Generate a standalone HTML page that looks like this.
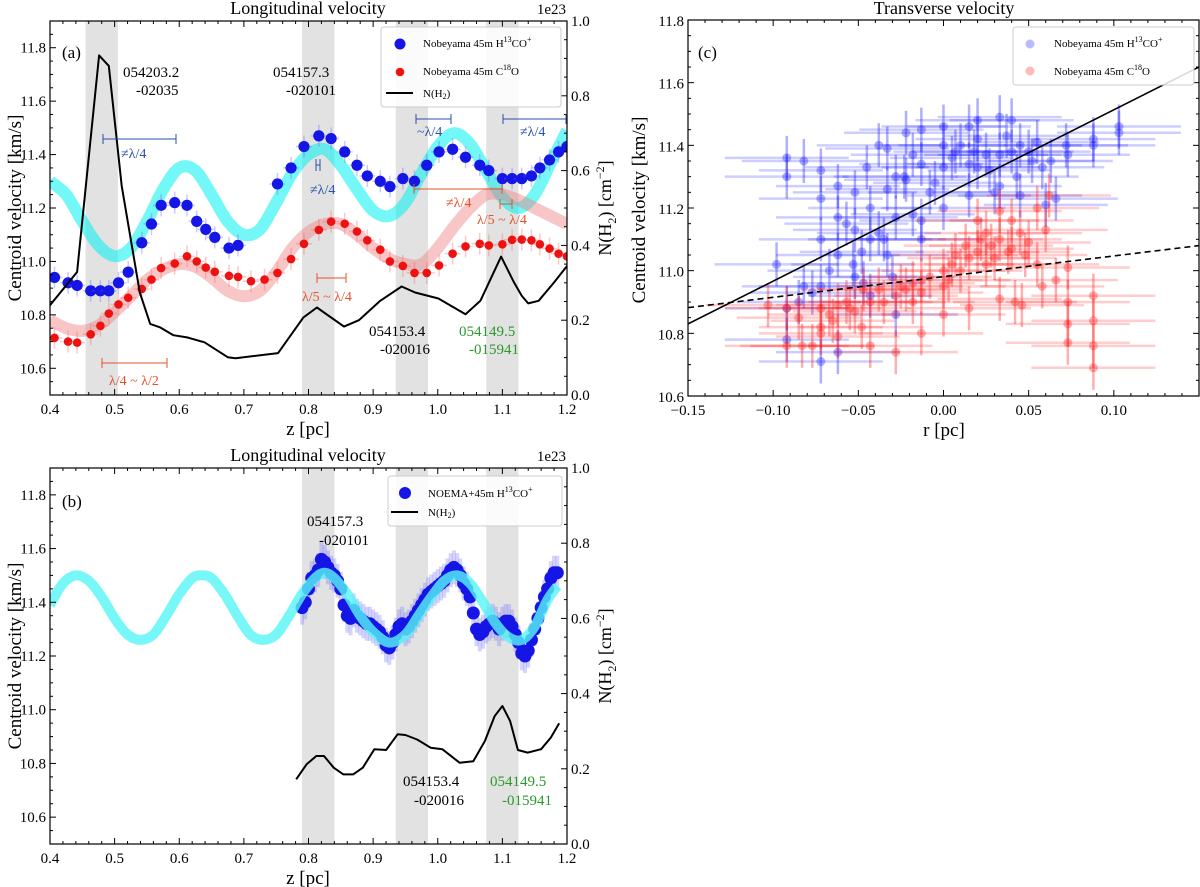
<!DOCTYPE html>
<html><head><meta charset="utf-8"><style>
html,body{margin:0;padding:0;background:#fff;}
svg{display:block;font-family:"Liberation Serif","DejaVu Serif",serif;}
</style></head><body>
<svg id="chart" width="1200" height="887" viewBox="0 0 1200 887" xmlns="http://www.w3.org/2000/svg">
<defs>
<clipPath id="clipA"><rect x="50" y="21" width="517" height="374"/></clipPath>
<clipPath id="clipB"><rect x="50" y="468" width="517" height="376"/></clipPath>
<clipPath id="clipC"><rect x="688" y="20" width="511" height="376"/></clipPath>
</defs>
</svg>
<script>
// ---------- DATA ----------
const bandsStart=[0.455,0.79,0.935,1.075];
const bandsEnd=[0.505,0.84,0.985,1.125];
// panel a
const aBlueZ=[0.407,0.428,0.442,0.463,0.478,0.491,0.506,0.521,0.542,0.557,0.572,0.593,0.612,0.627,0.641,0.655,0.677,0.691,0.752,0.773,0.793,0.816,0.835,0.856,0.875,0.891,0.911,0.926,0.946,0.964,0.983,1.002,1.023,1.043,1.065,1.079,1.100,1.115,1.130,1.145,1.158,1.173,1.187,1.200];
const aBlueV=[10.94,10.92,10.91,10.89,10.89,10.89,10.92,10.96,11.07,11.14,11.21,11.22,11.21,11.15,11.12,11.09,11.05,11.06,11.29,11.35,11.43,11.47,11.46,11.41,11.36,11.32,11.30,11.28,11.31,11.30,11.36,11.41,11.42,11.39,11.36,11.34,11.31,11.31,11.31,11.32,11.35,11.38,11.41,11.43];
const aRedZ=[0.407,0.428,0.442,0.463,0.478,0.491,0.506,0.521,0.542,0.557,0.572,0.593,0.612,0.627,0.641,0.655,0.677,0.691,0.711,0.732,0.752,0.773,0.793,0.816,0.835,0.856,0.875,0.891,0.911,0.926,0.946,0.964,0.983,1.002,1.023,1.043,1.065,1.079,1.100,1.115,1.130,1.145,1.158,1.173,1.187,1.200];
const aRedV=[10.714,10.70,10.696,10.727,10.759,10.805,10.839,10.864,10.897,10.932,10.975,10.992,11.019,11.0,10.977,10.961,10.946,10.942,10.926,10.932,10.957,11.009,11.066,11.118,11.149,11.141,11.112,11.079,11.044,11.0,10.983,10.957,10.957,10.985,11.029,11.056,11.066,11.06,11.064,11.081,11.082,11.079,11.064,11.048,11.029,11.019];
const modelZ=[0.4,0.425,0.45,0.475,0.5,0.525,0.55,0.575,0.6,0.625,0.65,0.675,0.7,0.725,0.75,0.775,0.8,0.825,0.85,0.875,0.9,0.925,0.95,0.975,1.0,1.025,1.05,1.075,1.1,1.125,1.15,1.175,1.2];
const aCyanV=[11.30,11.25,11.15,11.06,11.02,11.05,11.15,11.27,11.35,11.34,11.25,11.15,11.10,11.12,11.22,11.33,11.40,11.42,11.36,11.27,11.19,11.17,11.22,11.33,11.43,11.48,11.44,11.34,11.24,11.20,11.25,11.37,11.49];
const aPinkV=[10.78,10.75,10.74,10.76,10.81,10.87,10.93,10.97,10.99,10.98,10.94,10.89,10.87,10.89,10.96,11.05,11.11,11.14,11.14,11.10,11.05,11.01,10.99,10.99,11.05,11.13,11.20,11.25,11.25,11.23,11.20,11.17,11.14];
const aNZ=[0.4,0.442,0.476,0.491,0.511,0.539,0.555,0.570,0.591,0.612,0.639,0.675,0.687,0.753,0.792,0.813,0.855,0.878,0.911,0.944,0.965,1.001,1.043,1.066,1.098,1.118,1.130,1.140,1.156,1.180,1.2];
const aNV=[0.240,0.329,0.908,0.880,0.559,0.274,0.190,0.181,0.160,0.154,0.141,0.101,0.098,0.112,0.207,0.234,0.183,0.200,0.252,0.290,0.274,0.258,0.216,0.252,0.370,0.301,0.265,0.245,0.252,0.301,0.345];
// panel b
const bCyanZ=[0.4,0.42,0.44,0.46,0.48,0.5,0.52,0.54,0.56,0.58,0.6,0.62,0.635,0.65,0.67,0.69,0.71,0.73,0.75,0.77,0.79,0.81,0.825,0.84,0.86,0.88,0.9,0.925,0.95,0.97,0.99,1.01,1.03,1.05,1.07,1.09,1.11,1.13,1.15,1.17,1.185];
const bCyanV=[11.39,11.47,11.50,11.48,11.42,11.34,11.28,11.26,11.28,11.35,11.43,11.49,11.50,11.49,11.43,11.35,11.28,11.26,11.28,11.35,11.43,11.49,11.51,11.49,11.43,11.35,11.29,11.25,11.28,11.35,11.42,11.48,11.50,11.47,11.40,11.32,11.27,11.26,11.31,11.41,11.46];
const bBlueZ=[0.79,0.795,0.80,0.805,0.81,0.815,0.82,0.825,0.83,0.835,0.84,0.845,0.85,0.855,0.86,0.865,0.87,0.875,0.88,0.885,0.89,0.895,0.90,0.905,0.91,0.915,0.92,0.925,0.93,0.935,0.94,0.945,0.95,0.955,0.96,0.965,0.97,0.975,0.98,0.985,0.99,0.995,1.0,1.005,1.01,1.015,1.02,1.025,1.03,1.035,1.04,1.045,1.05,1.055,1.06,1.065,1.07,1.075,1.08,1.085,1.09,1.095,1.10,1.105,1.11,1.115,1.12,1.125,1.13,1.135,1.14,1.145,1.15,1.155,1.16,1.165,1.17,1.175,1.18,1.185];
const bBlueV=[11.38,11.40,11.45,11.49,11.50,11.52,11.56,11.55,11.53,11.51,11.50,11.48,11.45,11.39,11.35,11.34,11.37,11.35,11.34,11.33,11.32,11.32,11.31,11.30,11.29,11.27,11.24,11.23,11.25,11.28,11.31,11.32,11.30,11.31,11.33,11.35,11.37,11.39,11.41,11.43,11.44,11.45,11.46,11.47,11.48,11.50,11.52,11.53,11.52,11.50,11.47,11.45,11.42,11.36,11.30,11.28,11.29,11.31,11.32,11.33,11.32,11.30,11.32,11.33,11.33,11.31,11.28,11.25,11.21,11.20,11.22,11.26,11.30,11.34,11.38,11.42,11.45,11.49,11.51,11.51];
const bNZ=[0.781,0.797,0.812,0.824,0.839,0.854,0.869,0.884,0.902,0.920,0.938,0.950,0.968,0.989,1.007,1.034,1.055,1.073,1.088,1.100,1.112,1.124,1.139,1.160,1.175,1.188];
const bNV=[0.172,0.212,0.234,0.234,0.203,0.185,0.185,0.203,0.252,0.250,0.292,0.290,0.278,0.256,0.252,0.216,0.220,0.274,0.340,0.367,0.327,0.250,0.243,0.252,0.283,0.321];
// panel c
const cBlueR=[-0.098,-0.092,-0.092,-0.092,-0.092,-0.082,-0.082,-0.072,-0.072,-0.072,-0.072,-0.072,-0.062,-0.062,-0.062,-0.062,-0.052,-0.052,-0.052,-0.045,-0.043,-0.043,-0.043,-0.038,-0.033,-0.033,-0.033,-0.028,-0.028,-0.028,-0.022,-0.022,-0.018,-0.018,-0.013,-0.013,-0.013,-0.013,0.0,0.0,0.0,0.0,0.007,0.015,0.015,0.015,0.02,0.02,0.02,0.025,0.03,0.033,0.033,0.033,0.04,0.04,0.045,0.045,0.05,0.055,0.058,0.06,0.063,0.066,0.072,0.073,0.088,0.088,0.103,0.103,-0.057,-0.048,-0.038,-0.023,-0.008,0.005,0.01,0.027,0.037,0.052,-0.067,-0.047,-0.03,-0.005,0.018,0.043,-0.085,-0.077,-0.053,-0.035];
const cBlueV=[11.02,11.36,11.30,10.88,10.78,11.35,10.95,11.32,11.23,11.10,10.95,10.71,11.27,11.17,11.05,10.74,11.25,11.13,10.98,11.33,11.20,11.10,10.92,11.40,11.39,11.26,11.05,11.30,11.17,10.86,11.44,11.29,11.37,11.18,11.45,11.34,11.16,11.10,11.46,11.40,11.33,11.20,11.38,11.46,11.34,11.24,11.48,11.42,11.33,11.37,11.25,11.49,11.37,11.27,11.48,11.38,11.40,11.24,11.38,11.41,11.33,11.21,11.35,11.23,11.40,11.37,11.42,11.40,11.46,11.44,11.15,11.06,11.12,11.30,11.25,11.36,11.40,11.32,11.43,11.35,11.00,10.96,10.98,11.28,11.38,11.30,10.90,10.93,11.02,11.10];
const cRedR=[-0.103,-0.092,-0.092,-0.083,-0.077,-0.072,-0.072,-0.072,-0.067,-0.062,-0.062,-0.057,-0.052,-0.047,-0.043,-0.043,-0.038,-0.028,-0.028,-0.022,-0.018,-0.013,-0.013,-0.013,0.0,0.0,0.0,0.007,0.013,0.015,0.015,0.02,0.02,0.025,0.03,0.033,0.033,0.033,0.04,0.04,0.042,0.046,0.05,0.055,0.055,0.058,0.06,0.062,0.066,0.073,0.073,0.073,0.073,0.088,0.088,0.088,0.088,-0.085,-0.065,-0.055,-0.035,-0.025,-0.008,0.005,0.01,0.022,0.028,0.038,0.048,-0.048,-0.018,0.003,0.025,0.045];
const cRedV=[10.89,10.88,10.76,10.76,10.76,10.88,10.82,10.80,10.86,10.89,10.79,10.90,10.87,10.94,10.90,10.76,10.94,10.92,10.74,10.94,10.96,10.97,10.93,10.80,11.0,10.95,10.86,11.05,11.08,11.04,10.88,11.16,11.06,11.12,11.04,11.19,11.10,10.91,11.16,11.07,10.90,10.89,11.09,11.20,11.02,10.95,11.13,11.24,10.97,11.01,10.90,10.83,10.77,10.92,10.84,10.76,10.69,10.85,10.84,10.88,10.90,10.95,10.98,11.02,11.00,11.10,11.08,11.06,11.05,10.82,10.90,10.97,11.02,11.12];
const fitR=[-0.15,0.15];
const fitSolidV=[10.83,11.65];
const fitDashV=[10.882,11.08];
const zTicks=[0.4,0.5,0.6,0.7,0.8,0.9,1.0,1.1,1.2];
const vTicks=[10.6,10.8,11.0,11.2,11.4,11.6,11.8];
const nTicks=[0.0,0.2,0.4,0.6,0.8,1.0];
const rTicks=[-0.15,-0.10,-0.05,0.00,0.05,0.10];

// ---------- HELPERS ----------
const NS='http://www.w3.org/2000/svg';
const svg=document.getElementById('chart');
function mk(tag,attrs,parent){const e=document.createElementNS(NS,tag);for(const k in attrs)e.setAttribute(k,attrs[k]);(parent||svg).appendChild(e);return e;}
function txt(x,y,s,size,opts,parent){opts=opts||{};const t=mk('text',{x:x,y:y,'font-size':size,fill:opts.fill||'#000','text-anchor':opts.anchor||'start'},parent);if(opts.rot)t.setAttribute('transform','rotate(-90 '+x+' '+y+')');t.textContent=s;return t;}
function poly(xs,ys,fx,fy){return xs.map((v,i)=>fx(v).toFixed(1)+','+fy(ys[i]).toFixed(1)).join(' ');}
function smooth(xs,ys,fx,fy){const p=xs.map((v,i)=>[fx(v),fy(ys[i])]);let d='M'+p[0][0].toFixed(1)+' '+p[0][1].toFixed(1);
  for(let i=0;i<p.length-1;i++){const p0=p[i-1]||p[i],p1=p[i],p2=p[i+1],p3=p[i+2]||p2;
    const c1=[p1[0]+(p2[0]-p0[0])/6,p1[1]+(p2[1]-p0[1])/6],c2=[p2[0]-(p3[0]-p1[0])/6,p2[1]-(p3[1]-p1[1])/6];
    d+=' C'+c1[0].toFixed(1)+' '+c1[1].toFixed(1)+' '+c2[0].toFixed(1)+' '+c2[1].toFixed(1)+' '+p2[0].toFixed(1)+' '+p2[1].toFixed(1);}
  return d;}

// scales
const xa=z=>50+(z-0.4)/0.8*517;
const ya=v=>395-(v-10.5)/1.4*374;
const yaR=n=>395-n*374;
const yb=v=>844-(v-10.5)/1.4*376;
const ybR=n=>844-n*376;
const xc=r=>688+(r+0.15)/0.3*511;
const yc=v=>396-(v-10.6)/1.2*376;

function zAxisPanel(top,bot,yL,yR,tag){
  const g=mk('g',{});
  
  
  for(let z=0.4;z<=1.2001;z+=0.02){const x=xa(z);const maj=Math.abs(z*10-Math.round(z*10))<0.01;
    mk('line',{x1:x,x2:x,y1:bot,y2:bot-(maj?6:3),stroke:'#000','stroke-width':1},g);
    mk('line',{x1:x,x2:x,y1:top,y2:top+(maj?6:3),stroke:'#000','stroke-width':1},g);}
  zTicks.forEach(z=>{const t=txt(xa(z),bot+19,z.toFixed(1),15,{anchor:'middle'},g);});
  for(let v=10.5;v<=11.9001;v+=0.05){const y=yL(v);const maj=Math.abs(v*5-Math.round(v*5))<0.01;
    mk('line',{x1:50,x2:50+(maj?6:3),y1:y,y2:y,stroke:'#000','stroke-width':1},g);}
  vTicks.forEach(v=>{const t=txt(46,yL(v)+5,v.toFixed(1),15,{anchor:'end'},g);});
  for(let n=0;n<=1.0001;n+=0.05){const y=yR(n);const maj=Math.abs(n*5-Math.round(n*5))<0.01;
    mk('line',{x1:567,x2:567-(maj?6:3),y1:y,y2:y,stroke:'#000','stroke-width':1},g);}
  nTicks.forEach(n=>{const t=txt(571,yR(n)+5,n.toFixed(1),15,{},g);});
  mk('rect',{x:50,y:top,width:517,height:bot-top,fill:'none',stroke:'#000','stroke-width':1.2},g);
  const xt=txt(308,bot+40,'z [pc]',19,{anchor:'middle'},g);
  
  
  const yt=txt(21,(top+bot)/2,'Centroid velocity [km/s]',19,{anchor:'middle',rot:true},g);
  
  
  const cyy=(top+bot)/2;
  const y2=mk('text',{x:611,y:cyy,'font-size':18,'text-anchor':'middle',transform:'rotate(-90 611 '+cyy+')'},g);
  
  
  y2.innerHTML='N(H<tspan font-size="12" dy="5">2</tspan><tspan dy="-5">) [cm</tspan><tspan font-size="12" dy="-7">−2</tspan><tspan dy="7">]</tspan>';
  const e=txt(566,top-7,'1e23',15,{anchor:'end'},g);
  
  
  const ti=txt(308,top-7,'Longitudinal velocity',18,{anchor:'middle'},g);
  
  
}

// ---------- PANEL A ----------
(function(){
  const top=21,bot=395;
  const g=mk('g',{'clip-path':'url(#clipA)'});
  
  
  bandsStart.forEach((s,i)=>{const r=mk('rect',{x:xa(s),y:top,width:xa(bandsEnd[i])-xa(s),height:bot-top,fill:'#e2e2e2'},g);
    
    });
  const cy=mk('path',{d:smooth(modelZ,aCyanV,xa,ya),fill:'none',stroke:'#00f0f0','stroke-opacity':0.55,'stroke-width':12,'stroke-linejoin':'round'},g);
  
  
  const pk=mk('path',{d:smooth(modelZ,aPinkV,xa,ya),fill:'none',stroke:'#f08080','stroke-opacity':0.45,'stroke-width':12,'stroke-linejoin':'round'},g);
  
  
  aRedZ.forEach((z,i)=>{const x=xa(z),y=ya(aRedV[i]);
    mk('line',{x1:x-8,x2:x+8,y1:y,y2:y,stroke:'#ff6060','stroke-opacity':0.35,'stroke-width':1.5},g);
    mk('line',{x1:x,x2:x,y1:y-11,y2:y+11,stroke:'#ff6060','stroke-opacity':0.35,'stroke-width':1.5},g);
    const c=mk('circle',{cx:x,cy:y,r:4.3,fill:'#ee1111'},g);
    
    });
  aBlueZ.forEach((z,i)=>{const x=xa(z),y=ya(aBlueV[i]);
    mk('line',{x1:x-8,x2:x+8,y1:y,y2:y,stroke:'#6666ff','stroke-opacity':0.35,'stroke-width':1.5},g);
    mk('line',{x1:x,x2:x,y1:y-11,y2:y+11,stroke:'#6666ff','stroke-opacity':0.35,'stroke-width':1.5},g);
    const c=mk('circle',{cx:x,cy:y,r:5.6,fill:'#1515e6'},g);
    
    });
  const nl=mk('polyline',{points:poly(aNZ,aNV,xa,yaR),fill:'none',stroke:'#000','stroke-width':2,'stroke-linejoin':'round'},g);
  
  
  zAxisPanel(top,bot,ya,yaR,'a');
})();

// ---------- PANEL B ----------
(function(){
  const top=468,bot=844;
  const g=mk('g',{'clip-path':'url(#clipB)'});
  
  
  bandsStart.slice(1).forEach((s,i)=>{const r=mk('rect',{x:xa(s),y:top,width:xa(bandsEnd[i+1])-xa(s),height:bot-top,fill:'#e2e2e2'},g);
    
    });
  bBlueZ.forEach((z,i)=>{const x=xa(z),y=yb(bBlueV[i]);
    mk('line',{x1:x,x2:x,y1:y-17,y2:y+17,stroke:'#7070ff','stroke-opacity':0.3,'stroke-width':4},g);});
  bBlueZ.forEach((z,i)=>{const c=mk('circle',{cx:xa(z),cy:yb(bBlueV[i]),r:6.5,fill:'#1515e6'},g);
    
    });
  const cy=mk('path',{d:smooth(bCyanZ,bCyanV,xa,yb),fill:'none',stroke:'#55f5f5','stroke-opacity':0.8,'stroke-width':10,'stroke-linejoin':'round'},g);
  
  
  const nl=mk('polyline',{points:poly(bNZ,bNV,xa,ybR),fill:'none',stroke:'#000','stroke-width':2,'stroke-linejoin':'round'},g);
  
  
  zAxisPanel(top,bot,yb,ybR,'b');
})();

// ---------- PANEL C ----------
(function(){
  const top=20,bot=396,L=688,R=1199;
  const g=mk('g',{'clip-path':'url(#clipC)'});
  
  
  function pts(rs,vs,col,name){rs.forEach((r,i)=>{const x=xc(r),y=yc(vs[i]);
    mk('line',{x1:x-62,x2:x+62,y1:y,y2:y,stroke:col,'stroke-opacity':0.22,'stroke-width':2.5},g);
    mk('line',{x1:x,x2:x,y1:y-22,y2:y+22,stroke:col,'stroke-opacity':0.35,'stroke-width':2.5},g);
    const c=mk('circle',{cx:x,cy:y,r:4.5,fill:col,'fill-opacity':0.35},g);
    
    });}
  pts(cBlueR,cBlueV,'#1a1aff','h13co-point');
  pts(cRedR,cRedV,'#ff1a1a','c18o-point');
  const s=mk('line',{x1:xc(fitR[0]),y1:yc(fitSolidV[0]),x2:xc(fitR[1]),y2:yc(fitSolidV[1]),stroke:'#000','stroke-width':1.6},g);
  
  
  const d=mk('line',{x1:xc(fitR[0]),y1:yc(fitDashV[0]),x2:xc(fitR[1]),y2:yc(fitDashV[1]),stroke:'#000','stroke-width':1.6,'stroke-dasharray':'6,4'},g);
  
  
  const ax=mk('g',{});
  
  
  for(let k=-15;k<=15;k++){const x=xc(k/100);const maj=k%5===0;
    mk('line',{x1:x,x2:x,y1:bot,y2:bot-(maj?6:3),stroke:'#000'},ax);
    mk('line',{x1:x,x2:x,y1:top,y2:top+(maj?6:3),stroke:'#000'},ax);}
  rTicks.forEach(r=>{const t=txt(xc(r),bot+19,(r<0?'−':'')+Math.abs(r).toFixed(2),15,{anchor:'middle'},ax);
    
    });
  for(let v=10.6;v<=11.8001;v+=0.05){const y=yc(v);const maj=Math.abs(v*5-Math.round(v*5))<0.01;
    mk('line',{x1:L,x2:L+(maj?6:3),y1:y,y2:y,stroke:'#000'},ax);
    mk('line',{x1:R,x2:R-(maj?6:3),y1:y,y2:y,stroke:'#000'},ax);}
  vTicks.forEach(v=>{const t=txt(684,yc(v)+6,v.toFixed(1),15,{anchor:'end'},ax);
    
    });
  mk('rect',{x:L,y:top,width:R-L,height:bot-top,fill:'none',stroke:'#000','stroke-width':1.2},ax);
  const xt=txt(944,bot+40,'r [pc]',19,{anchor:'middle'},ax);
  
  
  const yt=txt(645,210,'Centroid velocity [km/s]',19,{anchor:'middle',rot:true},ax);
  
  
  const ti=txt(944,14,'Transverse velocity',18,{anchor:'middle'},ax);
  
  
})();
</script>
<div style="position:absolute;left:0;top:0;width:1200px;height:887px;pointer-events:none;">
<svg width="1200" height="887" style="position:absolute;left:0;top:0;font-family:'Liberation Serif','DejaVu Serif',serif;">
  <text x="62" y="58" font-size="17">(a)</text>
  <text x="62" y="507" font-size="17">(b)</text>
  <text x="698" y="58" font-size="17">(c)</text>
  <g font-size="15">
    <text x="123" y="77">054203.2</text><text x="136" y="95">-02035</text>
    <text x="273" y="77">054157.3</text><text x="286" y="95">-020101</text>
    <text x="369" y="336">054153.4</text><text x="380" y="354">-020016</text>
    <text x="459" y="336" fill="#2a9a2a">054149.5</text><text x="469" y="354" fill="#2a9a2a">-015941</text>
  </g>
  <g font-size="14">
    <path d="M103 134v10M103 139H176M176 134v10" stroke="#2a50a8" fill="none"/><text x="121" y="158" fill="#2a50a8">≠λ/4</text>
    <path d="M316 159v12M320 159v12M316 165H320" stroke="#2a50a8" fill="none"/><text x="310" y="194" fill="#2a50a8">≠λ/4</text>
    <path d="M416 114v10M416 119H451M451 114v10" stroke="#2a50a8" fill="none"/><text x="417" y="136" fill="#2a50a8">~λ/4</text>
    <path d="M503 114v10M503 119H566M566 114v10" stroke="#2a50a8" fill="none"/><text x="520" y="136" fill="#2a50a8">≠λ/4</text>
    <path d="M414 184v10M414 189H502M502 184v10" stroke="#e8502a" fill="none"/><text x="446" y="207" fill="#e8502a">≠λ/4</text>
    <path d="M500 199v10M500 204H512M512 199v10" stroke="#e8502a" fill="none"/><text x="477" y="224" fill="#e8502a">λ/5 ~ λ/4</text>
    <path d="M317 273v10M317 278H346M346 273v10" stroke="#e8502a" fill="none"/><text x="302" y="301" fill="#e8502a">λ/5 ~ λ/4</text>
    <path d="M102 358v10M102 363H167M167 358v10" stroke="#e8502a" fill="none"/><text x="109" y="385" fill="#e8502a">λ/4 ~ λ/2</text>
  </g>
  <g font-size="11">
    <rect x="381" y="27" width="180" height="80" rx="3" fill="#fff" fill-opacity="0.85" stroke="#ccc"/>
    <circle cx="400" cy="44" r="5.5" fill="#1515e6"/><text x="423" y="47">Nobeyama 45m H<tspan font-size="8" dy="-5">13</tspan><tspan dy="5">CO</tspan><tspan font-size="8" dy="-5">+</tspan></text>
    <circle cx="400" cy="72" r="4.3" fill="#ee1111"/><text x="423" y="75">Nobeyama 45m C<tspan font-size="8" dy="-5">18</tspan><tspan dy="5">O</tspan></text>
    <line x1="386" x2="413" y1="93" y2="93" stroke="#000" stroke-width="2"/><text x="423" y="97">N(H<tspan font-size="8" dy="2">2</tspan><tspan dy="-2">)</tspan></text>
  </g>
  <g font-size="15">
    <text x="307" y="526">054157.3</text><text x="319" y="545">-020101</text>
    <text x="403" y="786">054153.4</text><text x="414" y="805">-020016</text>
    <text x="490" y="786" fill="#2a9a2a">054149.5</text><text x="502" y="805" fill="#2a9a2a">-015941</text>
  </g>
  <g font-size="11">
    <rect x="388" y="476" width="174" height="50" rx="3" fill="#fff" fill-opacity="0.85" stroke="#ccc"/>
    <circle cx="405" cy="493" r="6" fill="#1515e6"/><text x="428" y="497">NOEMA+45m H<tspan font-size="8" dy="-5">13</tspan><tspan dy="5">CO</tspan><tspan font-size="8" dy="-5">+</tspan></text>
    <line x1="391" x2="418" y1="512" y2="512" stroke="#000" stroke-width="2"/><text x="428" y="516">N(H<tspan font-size="8" dy="2">2</tspan><tspan dy="-2">)</tspan></text>
  </g>
  <g font-size="11">
    <rect x="1013" y="27" width="181" height="58" rx="3" fill="#fff" fill-opacity="0.85" stroke="#ccc"/>
    <circle cx="1030" cy="44" r="4.5" fill="#1a1aff" fill-opacity="0.3"/><text x="1054" y="47">Nobeyama 45m  H<tspan font-size="8" dy="-5">13</tspan><tspan dy="5">CO</tspan><tspan font-size="8" dy="-5">+</tspan></text>
    <circle cx="1030" cy="71" r="4.5" fill="#ff1a1a" fill-opacity="0.3"/><text x="1054" y="75">Nobeyama 45m C<tspan font-size="8" dy="-5">18</tspan><tspan dy="5">O</tspan></text>
  </g>
</svg>
</div>
</body></html>
